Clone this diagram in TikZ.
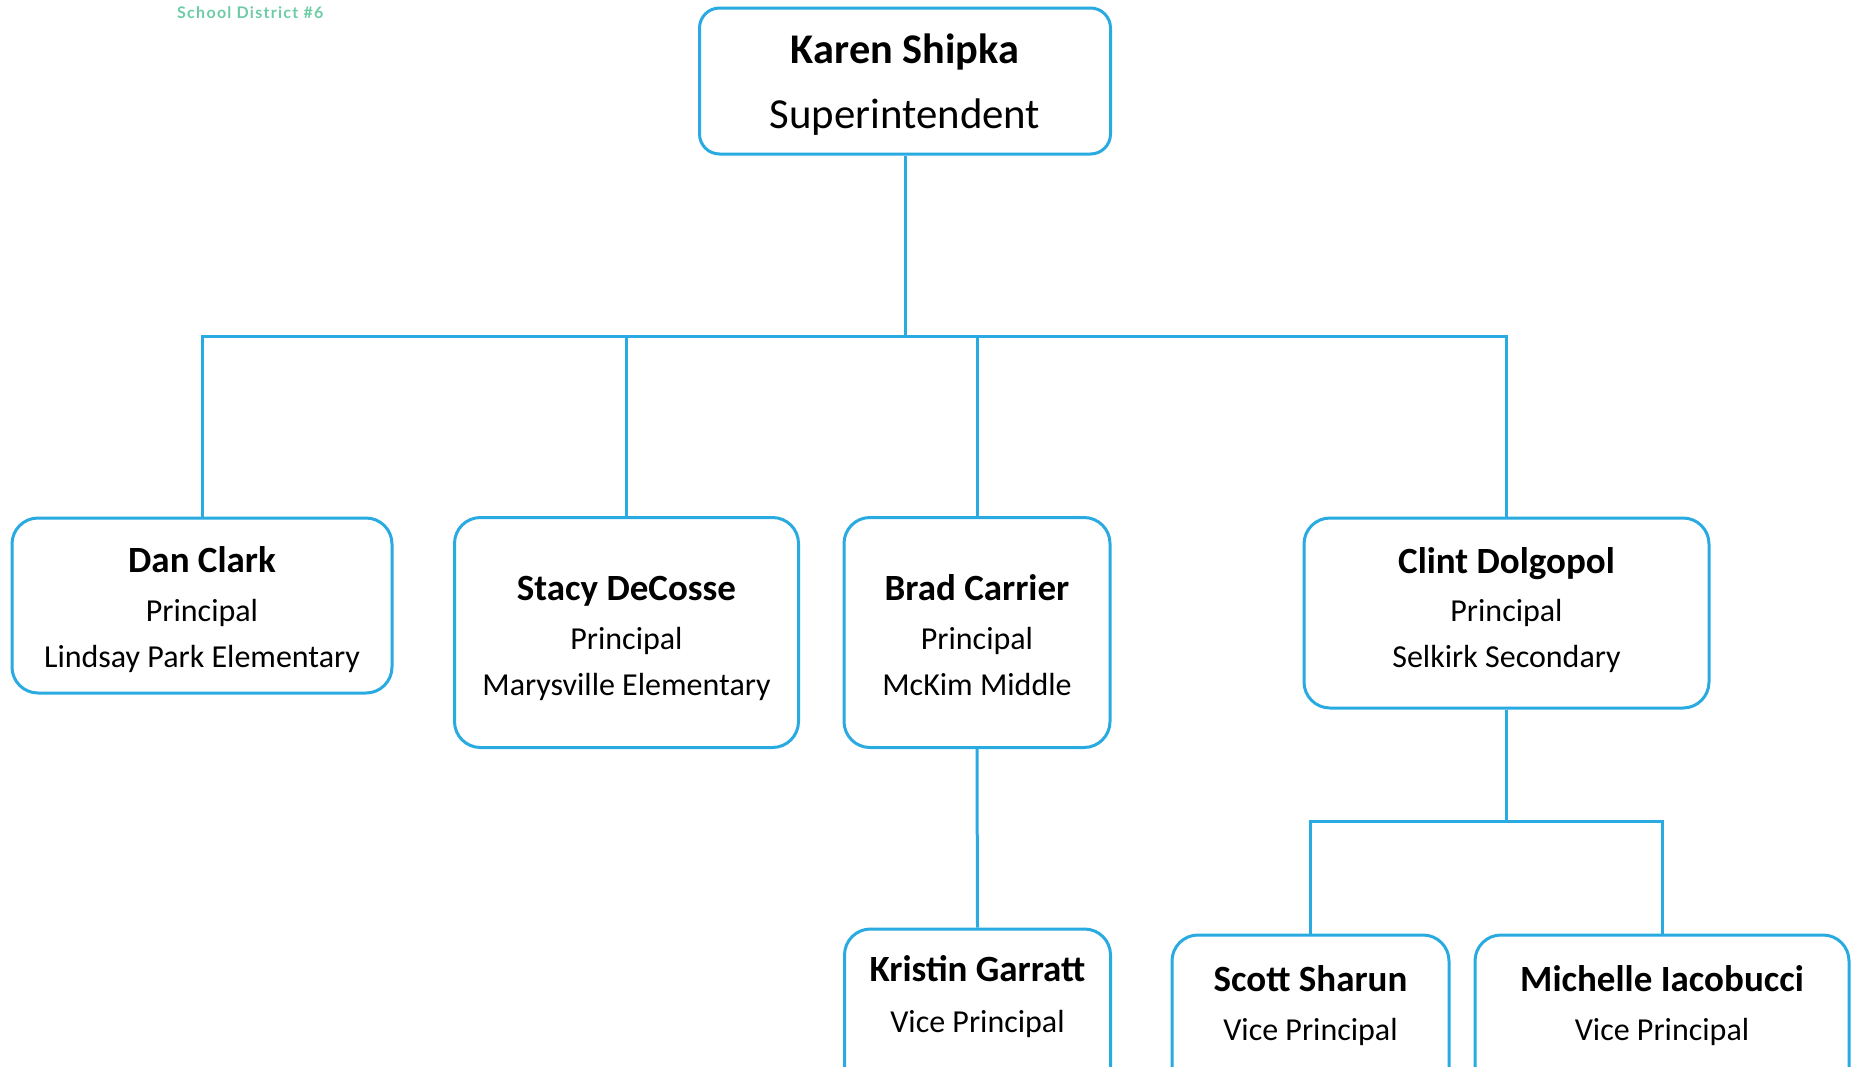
\documentclass[tikz,border=0pt]{standalone}
\usepackage{fontspec}
\setmainfont{Carlito}
\newfontfamily\latofont[LetterSpace=8]{Lato}
\definecolor{lineblue}{RGB}{41,170,225}
\definecolor{sdgreen}{RGB}{108,204,166}
\begin{document}
\begin{tikzpicture}[x=1pt,y=-1pt,
  orgbox/.style={draw=lineblue,line width=3pt,rounded corners=26pt,fill=white,inner sep=0pt},
  topbox/.style={orgbox,rounded corners=20pt},
  link/.style={draw=lineblue,line width=3pt},
  nametxt/.style={anchor=base,inner sep=0pt,font=\fontsize{37}{44}\selectfont\bfseries},
  roletxt/.style={anchor=base,inner sep=0pt,font=\fontsize{32}{38}\selectfont},
  topname/.style={anchor=base,inner sep=0pt,font=\fontsize{42.3}{50}\selectfont\bfseries},
  toprole/.style={anchor=base,inner sep=0pt,font=\fontsize{42.8}{50}\selectfont}]
\useasboundingbox (0,0) rectangle (1856,1066);
\clip (0,0) rectangle (1856,1066);

\node[anchor=base west,inner sep=0pt,text=sdgreen,font=\fontsize{16}{19}\selectfont\latofont\bfseries] (sd) at (177,18) {School District \#6};

% boxes
\node[topbox,minimum width=411pt,minimum height=146pt] (karen) at (905,81) {};
\node[orgbox,minimum width=380pt,minimum height=175pt] (dan) at (202,605.5) {};
\node[orgbox,minimum width=344pt,minimum height=230pt] (stacy) at (626.5,632.5) {};
\node[orgbox,minimum width=266pt,minimum height=230pt] (brad) at (977,632.5) {};
\node[orgbox,minimum width=405pt,minimum height=190pt] (clint) at (1506.5,613) {};
\node[orgbox,minimum width=266pt,minimum height=170pt] (kristin) at (977.5,1014) {};
\node[orgbox,minimum width=277pt,minimum height=170pt] (scott) at (1310.5,1020) {};
\node[orgbox,minimum width=374pt,minimum height=170pt] (michelle) at (1662,1020) {};

% texts
\node[topname] (karenN) at (905,63) {Karen Shipka};
\node[toprole] (karenR) at (905,128) {Superintendent};

\node[nametxt] (danN) at (202,572) {Dan Clark};
\node[roletxt] (danR) at (202,621) {Principal};
\node[roletxt] (danS) at (202,667) {Lindsay Park Elementary};

\node[nametxt] (stacyN) at (626.5,600) {Stacy DeCosse};
\node[roletxt] (stacyR) at (626.5,649) {Principal};
\node[roletxt] (stacyS) at (626.5,695) {Marysville Elementary};

\node[nametxt] (bradN) at (977,600) {Brad Carrier};
\node[roletxt] (bradR) at (977,649) {Principal};
\node[roletxt] (bradS) at (977,695) {McKim Middle};

\node[nametxt] (clintN) at (1506.5,573) {Clint Dolgopol};
\node[roletxt] (clintR) at (1506.5,621) {Principal};
\node[roletxt] (clintS) at (1506.5,667) {Selkirk Secondary};

\node[nametxt] (kristinN) at (977.5,981) {Kristin Garratt};
\node[roletxt] (kristinR) at (977.5,1032) {Vice Principal};

\node[nametxt] (scottN) at (1310.5,991) {Scott Sharun};
\node[roletxt] (scottR) at (1310.5,1040) {Vice Principal};

\node[nametxt] (michelleN) at (1662,991) {Michelle Iacobucci};
\node[roletxt] (michelleR) at (1662,1040) {Vice Principal};

% connectors
\coordinate (bus) at (905,336);
\coordinate (bus2) at (1506.5,821.5);
\draw[link] (karen.south) -- (bus);
\draw[link] (bus) -| (dan.north);
\draw[link] (bus) -| (stacy.north);
\draw[link] (bus) -| (brad.north);
\draw[link] (bus) -| (clint.north);
\draw[link] (brad.south) -- (kristin.north);
\draw[link] (clint.south) -- (bus2);
\draw[link] (bus2) -| (scott.north);
\draw[link] (bus2) -| (michelle.north);
\end{tikzpicture}
\end{document}
